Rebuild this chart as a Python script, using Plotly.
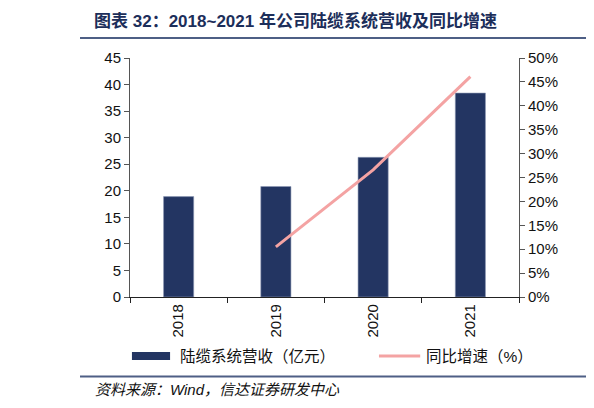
import plotly.graph_objects as go

years = ['2018', '2019', '2020', '2021']
revenue = [18.9, 20.8, 26.3, 38.4]          # 陆缆系统营收（亿元）
growth_years = ['2019', '2020', '2021']
growth = [0.105, 0.266, 0.461]              # 同比增速

navy = '#233562'
pink = '#f4a3a3'
font_fam = 'Liberation Sans, Noto Sans CJK SC, sans-serif'
cjk = 'Liberation Sans, Noto Sans CJK SC, sans-serif'

fig = go.Figure()
fig.add_bar(x=years, y=revenue, name='陆缆系统营收（亿元）',
            marker=dict(color=navy, line=dict(color='#8d99b5', width=0.6)),
            showlegend=False)
fig.add_scatter(x=growth_years, y=growth, name='同比增速（%）', yaxis='y2',
                mode='lines', line=dict(color=pink, width=3),
                showlegend=False)

# page body has an 8px margin, so the plot box is shifted back by that
fig.update_layout(
    width=594, height=408,
    margin=dict(l=122, r=83, t=50, b=119),
    paper_bgcolor='white', plot_bgcolor='white',
    font=dict(family=font_fam, size=15, color='#111111'),
    bargap=0.69,
    xaxis=dict(type='category', tickangle=-90, showline=True, linecolor='#222222',
               linewidth=1.3, ticks='outside', ticklen=5, tickson='boundaries',
               tickcolor='#222222', showgrid=False, tickfont=dict(size=15)),
    yaxis=dict(range=[0, 45], dtick=5, showline=True, linecolor='#555555',
               ticks='outside', ticklen=5, tickcolor='#555555', showgrid=False,
               zeroline=False),
    yaxis2=dict(range=[0, 0.5], dtick=0.05, tickformat='.0%', overlaying='y',
                side='right', showline=True, linecolor='#555555', ticks='outside',
                ticklen=5, tickcolor='#555555', showgrid=False, zeroline=False),
)

# title and divider lines
fig.add_annotation(xref='paper', yref='paper', x=-0.098, y=1.155, xanchor='left',
                   yanchor='middle', showarrow=False,
                   text='<b>图表 32：2018~2021 年公司陆缆系统营收及同比增速</b>',
                   font=dict(family=cjk, size=17, color='#1c2e5a'))
fig.add_shape(type='line', xref='paper', yref='paper', x0=-0.1285, x1=1.19,
              y0=1.084, y1=1.084, line=dict(color='#4e5f85', width=2))
fig.add_shape(type='line', xref='paper', yref='paper', x0=-0.1285, x1=1.19,
              y0=-0.333, y1=-0.333, line=dict(color='#4e5f85', width=2))
fig.add_annotation(xref='paper', yref='paper', x=-0.095, y=-0.389, xanchor='left',
                   yanchor='middle', showarrow=False,
                   text='<i>资料来源：Wind，信达证券研发中心</i>',
                   font=dict(family=cjk, size=15, color='#111111'))

# legend
fig.add_shape(type='rect', xref='paper', yref='paper', x0=0.005, x1=0.103,
              y0=-0.2305, y1=-0.2635, fillcolor=navy, line=dict(width=0))
fig.add_annotation(xref='paper', yref='paper', x=0.123, y=-0.247, xanchor='left',
                   yanchor='middle', showarrow=False, text='陆缆系统营收（亿元）',
                   font=dict(family=cjk, size=15.5, color='#111111'))
fig.add_shape(type='line', xref='paper', yref='paper', x0=0.64, x1=0.746,
              y0=-0.247, y1=-0.247, line=dict(color=pink, width=3))
fig.add_annotation(xref='paper', yref='paper', x=0.756, y=-0.247, xanchor='left',
                   yanchor='middle', showarrow=False, text='同比增速（%）',
                   font=dict(family=cjk, size=15.5, color='#111111'))

fig.write_html('out.html')
